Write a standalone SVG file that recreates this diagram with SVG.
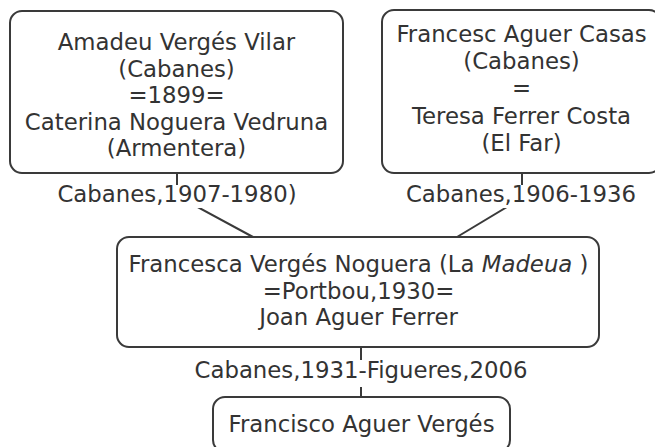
<svg xmlns="http://www.w3.org/2000/svg" width="655" height="447" viewBox="0 0 655 447">
<style>
.box{fill:#fff;stroke:#3a3a3a;stroke-width:2}
.t{font-family:"DejaVu Sans",Verdana,sans-serif;font-size:22.8px;fill:#333;text-anchor:middle}
.bg{fill:#fff}
.ln{fill:none;stroke:#3a3a3a;stroke-width:2}
</style>
<rect width="655" height="447" fill="#fff"/>
<g id="connectors">
<path class="ln" d="M177,173 V196 L253,237"/>
<path class="ln" d="M522,173 V198 L457,237"/>
<path class="ln" d="M361,347 V397"/>
</g>
<g id="labels">
<rect class="bg" x="53" y="185" width="248" height="23"/>
<text class="t" x="177" y="202">Cabanes,1907-1980)</text>
<rect class="bg" x="403" y="185" width="236" height="23"/>
<text class="t" x="521" y="202">Cabanes,1906-1936</text>
<rect class="bg" x="191" y="360" width="340" height="27"/>
<text class="t" x="361" y="378">Cabanes,1931-Figueres,2006</text>
</g>
<g id="n1">
<rect class="box" x="10" y="11" width="333" height="162" rx="12"/>
<text class="t" x="176.5" y="50">Amadeu Vergés Vilar</text>
<text class="t" x="176.5" y="76.5">(Cabanes)</text>
<text class="t" x="176.5" y="103">=1899=</text>
<text class="t" x="176.5" y="129.5">Caterina Noguera Vedruna</text>
<text class="t" x="176.5" y="156">(Armentera)</text>
</g>
<g id="n2">
<rect class="box" x="382" y="10" width="279" height="163" rx="12"/>
<text class="t" x="521.5" y="42">Francesc Aguer Casas</text>
<text class="t" x="521.5" y="69">(Cabanes)</text>
<text class="t" x="521.5" y="96">=</text>
<text class="t" x="521.5" y="124">Teresa Ferrer Costa</text>
<text class="t" x="521.5" y="151">(El Far)</text>
</g>
<g id="n3">
<rect class="box" x="117" y="237" width="482" height="110" rx="12"/>
<text class="t" x="358.5" y="272">Francesca Vergés Noguera (La <tspan font-style="italic">Madeua</tspan> )</text>
<text class="t" x="358.5" y="298.5">=Portbou,1930=</text>
<text class="t" x="358.5" y="325">Joan Aguer Ferrer</text>
</g>
<g id="n4">
<rect class="box" x="213" y="397" width="297" height="55" rx="12"/>
<text class="t" x="361.5" y="432">Francisco Aguer Vergés</text>
</g>
</svg>
